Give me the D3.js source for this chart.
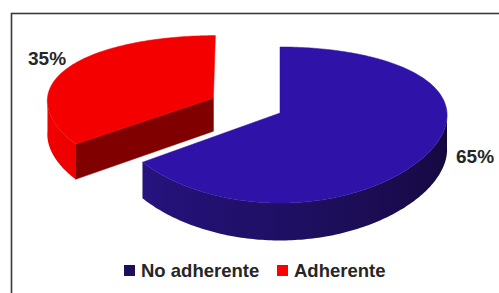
<!DOCTYPE html>
<html>
<head>
<meta charset="utf-8">
<script src="https://cdn.jsdelivr.net/npm/d3@7"></script>
<style>
  body { margin: 0; background: #fff; }
  svg { display: block; }
  text { font-family: "Liberation Sans", Arial, sans-serif; font-weight: bold; fill: #262626; }
</style>
</head>
<body>
<svg id="chart" width="499" height="293"></svg>
<script>
// chart data
const categories = ["No adherente", "Adherente"];
const values = [65, 35];
const pctLabels = ["65%", "35%"];
const explode = [0, 0.45];

// colours per slice
const topColors = ["#2f13a8", "#f40000"];
const sideLight = ["#2a1690", "#f20000"];
const sideDark = ["#140838", "#dc0000"];
const cutColors = ["#1c0c5c", "#800000"];
const legendColors = ["#1e0e5c", "#ff0000"];

const width = 499, height = 293;
const svg = d3.select("#chart");
const defs = svg.append("defs");

// outer frame (only top and left edges are visible)
svg.append("rect")
    .attr("x", 11.5).attr("y", 13.5)
    .attr("width", width).attr("height", height)
    .attr("fill", "none")
    .attr("stroke", "#3a3a3a")
    .attr("stroke-width", 1.6);

// 3d projection of the pie
const cx = 280, cy = 113, rx = 167;
const depthY = 76.2, persp = 0.154, perspX = 0.03, thick = 34;
const xScale = d3.scaleLinear().domain([-1, 1]).range([cx - rx, cx + rx]);

function proj(X, Z, down) {
    // Z positive towards the viewer, down = 0 on top face, 1 on bottom
    const x = xScale(X / (1 - perspX * Z));
    const y = cy + depthY * Z / (1 - persp * Z) + down * thick * (1 + 0.1 * Z);
    return [x, y];
}

const pie = d3.pie().sort(null).value(d => d);
const slices = pie(values);
const line = d3.line();
const step = Math.PI / 180;

function arcPts(pt, from, to, down) {
    const pts = [];
    const n = Math.max(2, Math.ceil((to - from) / step));
    for (let k = 0; k <= n; k++) pts.push(pt(from + (to - from) * k / n, 1, down));
    return pts;
}

function drawSlice(s, i) {
    const mid = (s.startAngle + s.endAngle) / 2;
    const offX = explode[i] * Math.sin(mid);
    const offZ = -explode[i] * Math.cos(mid);
    const pt = (a, r, down) => proj(offX + r * Math.sin(a), offZ - r * Math.cos(a), down);
    const g = svg.append("g");

    // outer curved side, only the part facing us, shaded along x
    const a0 = Math.max(s.startAngle, Math.PI / 2);
    const a1 = Math.min(s.endAngle, 3 * Math.PI / 2);
    if (a1 > a0) {
        const shade = d3.scaleLinear().domain([3 * Math.PI / 2, Math.PI / 2])
            .range([sideLight[i], sideDark[i]]).interpolate(d3.interpolateRgb);
        const xa = pt(a0, 1, 0)[0], xb = pt(a1, 1, 0)[0];
        const grad = defs.append("linearGradient")
            .attr("id", "side" + i)
            .attr("gradientUnits", "userSpaceOnUse")
            .attr("x1", xa).attr("x2", xb).attr("y1", 0).attr("y2", 0);
        d3.range(0, 11).forEach(k => {
            const a = a0 + (a1 - a0) * k / 10;
            grad.append("stop")
                .attr("offset", (pt(a, 1, 0)[0] - xa) / (xb - xa))
                .attr("stop-color", shade(a));
        });
        const pts = arcPts(pt, a0, a1, 0).concat(arcPts(pt, a0, a1, 1).reverse());
        g.append("path")
            .attr("d", line(pts) + "Z")
            .attr("fill", `url(#side${i})`);
    }

    // radial cut faces, drawn when they face the viewer
    [[s.startAngle, s.startAngle - Math.PI / 2], [s.endAngle, s.endAngle + Math.PI / 2]].forEach(([a, n]) => {
        if (Math.cos(n) < -1e-3) {
            g.append("path")
                .attr("d", line([pt(0, 0, 0), pt(a, 1, 0), pt(a, 1, 1), pt(0, 0, 1)]) + "Z")
                .attr("fill", cutColors[i]).attr("stroke", cutColors[i]).attr("stroke-width", 0.5);
        }
    });

    // top face
    const topPts = [pt(0, 0, 0)].concat(arcPts(pt, s.startAngle, s.endAngle, 0));
    g.append("path")
        .attr("d", line(topPts) + "Z")
        .attr("fill", topColors[i]).attr("stroke", topColors[i]).attr("stroke-width", 0.5);
}

// the exploded slice sits behind, so draw it first
slices.slice().reverse().forEach(s => drawSlice(s, s.index));

// percentage labels
const labelPos = [[456, 163], [28, 65]];
svg.selectAll("text.pct")
    .data(pctLabels)
    .enter().append("text")
    .attr("class", "pct")
    .attr("x", (d, i) => labelPos[i][0])
    .attr("y", (d, i) => labelPos[i][1])
    .style("font-size", "19px")
    .text(d => d);

// legend
const legendX = [124, 277];
const legend = svg.selectAll("g.leg")
    .data(categories)
    .enter().append("g")
    .attr("class", "leg")
    .attr("transform", (d, i) => `translate(${legendX[i]}, 265)`);
legend.append("rect")
    .attr("width", 11).attr("height", 11)
    .attr("fill", (d, i) => legendColors[i]);
legend.append("text")
    .attr("x", 17).attr("y", 12)
    .style("font-size", "18.5px")
    .text(d => d);
</script>
</body>
</html>
